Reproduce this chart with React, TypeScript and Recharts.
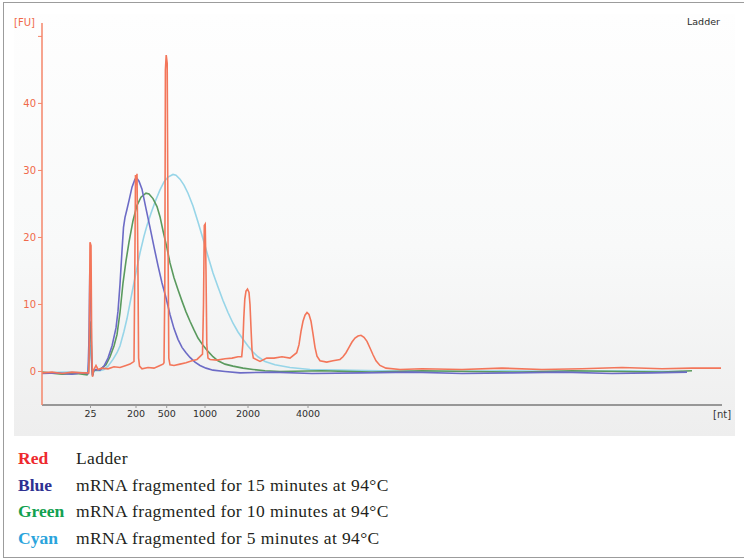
import React from 'react';
import { LineChart, Line, XAxis, YAxis } from 'recharts';

// migration position (arbitrary units along the run) -> fluorescence [FU]
const ladderTrace: [number, number][] = [
  [0, -0.2], [10, -0.1], [20, -0.3], [30, -0.1], [40, -0.2], [46.8, -0.2],
  [47.4, 6], [48, 19.3], [49, 18.8], [49.7, 4], [50.5, -0.8], [51.3, 0.1],
  [54, 0.9], [56, 0.3], [60, 0.5], [66, 0.4], [72, 0.7], [78, 0.6], [84, 0.9], [88, 1.1], [91, 1.4],
  [92, 1.5], [92.8, 15], [93.5, 29.3], [94.2, 27.8], [95, 29.5], [95.8, 18], [96.6, 2], [97.5, 0.8],
  [100, 0.4], [106, 0.6], [112, 0.5], [118, 0.9], [121, 1.1],
  [122, 1.3], [122.8, 12], [123.4, 45], [124.2, 47.2], [125.2, 46], [126, 20], [126.8, 2], [128, 1],
  [132, 0.9], [138, 1.1], [144, 1.3], [150, 1.6], [155, 1.8], [160.5, 2.6],
  [161.5, 10], [162.3, 21.8], [163.2, 22], [164, 15], [164.8, 4], [166, 2.0],
  [168, 1.8], [175, 1.7], [183, 1.9], [190, 2.0], [196, 2.2], [199.7, 2.2],
  [200.8, 4], [201.8, 8], [202.8, 10.8], [204, 12], [205.5, 12.3], [207, 11.8], [208, 10],
  [209, 6.5], [210, 3.2], [211.3, 2.0],
  [218, 1.5], [224.7, 2.0], [232, 2.0], [240, 2.2], [248, 2.0], [254.7, 2.8],
  [257, 4], [259, 6], [261, 7.5], [263, 8.4], [265, 8.8], [267, 8.5], [269, 7.5], [271, 5.6],
  [273, 3.6], [275, 2.3], [278, 1.6], [284.7, 1.4], [291, 1.6], [298, 1.8],
  [301, 2.2], [304, 2.8], [307, 3.6], [310, 4.4], [313, 5.0], [316, 5.3], [319, 5.4],
  [322, 5.1], [325, 4.5], [328, 3.5], [331, 2.5], [334, 1.6], [338, 0.9],
  [344, 0.5], [358, 0.3], [380, 0.4], [420, 0.3], [460, 0.5], [500, 0.3], [540, 0.4],
  [580, 0.6], [620, 0.4], [650, 0.5], [679, 0.5],
];

const frag15Trace: [number, number][] = [
  [0, -0.3], [15, -0.2], [30, -0.4], [40, -0.2], [46, -0.3], [47, 5], [47.8, 14.8], [48.8, 12],
  [49.6, 2], [50.5, -0.6], [51.5, 0.1], [54, 0.3], [58, 0.2], [62, 0.8], [66, 2], [70, 3.8],
  [74, 6.5], [76, 9], [78, 13], [80, 18], [81.5, 21.5], [83, 23], [85, 24.2], [87, 25.5], [90, 27.5],
  [93, 28.7], [95, 28.8], [97, 28.4], [100, 27.2], [104, 24.3], [108, 21.5], [112, 18.6],
  [116, 15.8], [120, 13.2], [124, 11], [128, 8.5], [132, 6.4], [136, 4.8], [140, 3.6],
  [144, 2.8], [148, 2.1], [153, 1.4], [158, 0.9], [164, 0.5], [171, 0.2], [183, 0],
  [198, -0.2], [230, -0.1], [270, -0.3], [320, -0.2], [370, -0.1], [420, -0.3], [470, -0.2],
  [520, -0.1], [570, -0.3], [610, -0.2], [645, -0.1],
];

const frag10Trace: [number, number][] = [
  [0, -0.1], [20, -0.4], [35, -0.3], [45, -0.5], [46.5, 0], [47.3, 4], [48, 7.5], [49, 6],
  [49.8, 1], [50.6, -0.6], [52, 0.2], [58, 0.3], [64, 1], [68, 2.2], [72, 3.8], [75, 5.5],
  [78, 8.8], [81, 13.2], [84, 16.5], [87, 19.3], [91, 22.5], [95, 24.8], [99, 26], [104, 26.6],
  [107, 26.5], [111, 25.8], [115, 24.6], [118, 23.1], [121, 21], [125, 18.4], [128, 16.2],
  [132, 14], [136, 12.2], [140, 10.5], [144, 8.9], [148, 7.5], [152, 6.2], [156, 5],
  [161, 3.9], [166, 3], [171, 2.2], [176, 1.6], [183, 1.1], [191, 0.8], [201, 0.5],
  [211, 0.3], [223, 0.1], [238, 0], [280, 0.1], [330, -0.1], [380, 0.1], [430, 0],
  [480, -0.1], [530, 0.1], [580, 0], [620, -0.1], [650, 0.1],
];

const frag5Trace: [number, number][] = [
  [0, -0.2], [25, -0.1], [46, -0.2], [47.3, 2], [48, 4], [49, 3], [49.8, 0.5], [50.6, -0.4],
  [52, 0.1], [58, 0.1], [62, 0.3], [66, 0.8], [71, 1.8], [75, 2.8], [78, 3.8], [82, 6],
  [85, 7.9], [88, 10.2], [91, 12.5], [95, 15.5], [98, 17.7], [102, 20.2], [105, 21.8],
  [109, 23.6], [113, 25.3], [118, 27.1], [122, 28.3], [126, 29], [131, 29.4], [134, 29.3],
  [138, 28.7], [142, 27.8], [146, 26.6], [151, 24.7], [156, 22.3], [161, 19.8], [166, 17.2],
  [171, 14.7], [176, 12.6], [181, 10.6], [186, 8.8], [191, 7.2], [196, 5.9], [201, 4.8],
  [206, 3.8], [211, 2.9], [216, 2.2], [223, 1.5], [233, 1.0], [248, 0.6], [268, 0.3],
  [298, 0.2], [338, 0.1], [400, 0], [460, 0.1], [520, 0], [580, 0.1], [640, 0],
];

const sizeTickPos = [48.5, 94, 124.7, 163, 206, 266];
const sizeTickLabels = ['25', '200', '500', '1000', '2000', '4000'];
const fuTicks = [0, 10, 20, 30, 40, 50];

const legendNames = ['Red', 'Blue', 'Green', 'Cyan'];
const legendTexts = [
  'Ladder',
  'mRNA fragmented for 15 minutes at 94°C',
  'mRNA fragmented for 10 minutes at 94°C',
  'mRNA fragmented for 5 minutes at 94°C',
];
const legendColors = ['#ee2a2e', '#2e3192', '#12a150', '#2aa4dc'];

const toRows = (trace: [number, number][]) => trace.map(([t, fu]) => ({ t, fu }));

const series = [
  { key: 'cyan', data: toRows(frag5Trace), color: '#97d5e8' },
  { key: 'green', data: toRows(frag10Trace), color: '#5a9a5e' },
  { key: 'blue', data: toRows(frag15Trace), color: '#6c6bc6' },
  { key: 'red', data: toRows(ladderTrace), color: '#f3765a' },
];

const sans = '"DejaVu Sans", Verdana, sans-serif';

export default function App() {
  return (
    <div style={{ position: 'absolute', left: 0, top: 0, width: 744, height: 559, background: '#fff', overflow: 'hidden' }}>
      <div style={{ position: 'absolute', left: 3, top: 2, width: 760, height: 554, border: '1.5px solid #9c9c9c' }} />
      <div
        style={{
          position: 'absolute', left: 14, top: 14, width: 721, height: 422,
          background: 'linear-gradient(to bottom, #fefefe 0%, #f8f9f9 55%, #eeeeee 100%)',
        }}
      >
        <LineChart width={721} height={422} margin={{ top: 9, right: 13, left: 0, bottom: 0 }}>
          <XAxis
            dataKey="t"
            type="number"
            domain={[0, 680]}
            allowDataOverflow
            ticks={sizeTickPos}
            tickFormatter={(v: number) => sizeTickLabels[sizeTickPos.indexOf(v)] ?? ''}
            interval={0}
            height={31}
            axisLine={{ stroke: '#7a7a7a', strokeWidth: 1.5 }}
            tickLine={{ stroke: '#9a9a9a' }}
            tickSize={3}
            tick={{ fill: '#2e2e2e', fontSize: 9.5, fontFamily: sans }}
          />
          <YAxis
            type="number"
            domain={[-5, 52]}
            allowDataOverflow
            ticks={fuTicks}
            interval={0}
            width={28}
            tickFormatter={(v: number) => (v > 40 ? '' : String(v))}
            axisLine={{ stroke: '#f4866a', strokeWidth: 1.5 }}
            tickLine={{ stroke: '#f4866a' }}
            tickSize={4}
            tick={{ fill: '#f0694a', fontSize: 10, fontFamily: sans }}
          />
          {series.map((s) => (
            <Line
              key={s.key}
              data={s.data}
              dataKey="fu"
              type="linear"
              stroke={s.color}
              strokeWidth={1.6}
              dot={false}
              activeDot={false}
              isAnimationActive={false}
            />
          ))}
        </LineChart>
      </div>
      <div style={{ position: 'absolute', left: 14, top: 17, fontFamily: sans, fontSize: 10, color: '#f0694a' }}>[FU]</div>
      <div style={{ position: 'absolute', left: 687, top: 16, fontFamily: sans, fontSize: 9.5, color: '#2a2a2a' }}>Ladder</div>
      <div style={{ position: 'absolute', left: 713, top: 409, fontFamily: sans, fontSize: 10, color: '#333' }}>[nt]</div>
      {legendNames.map((name, i) => (
        <div
          key={name}
          style={{
            position: 'absolute', left: 18, top: 448 + i * 26.6, height: 20, lineHeight: '20px',
            fontFamily: '"Liberation Serif", serif', fontSize: 17.5, whiteSpace: 'nowrap',
          }}
        >
          <span style={{ color: legendColors[i], fontWeight: 'bold', display: 'inline-block', width: 58 }}>{name}</span>
          <span style={{ color: '#231f20', letterSpacing: 0.4 }}>{legendTexts[i]}</span>
        </div>
      ))}
    </div>
  );
}
